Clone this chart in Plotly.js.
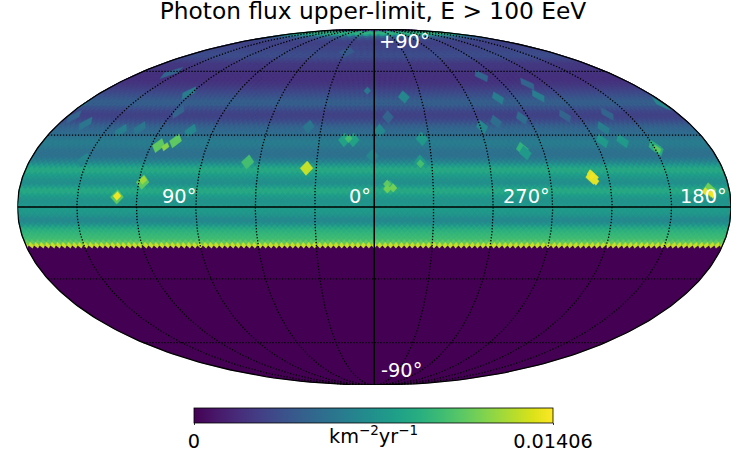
<!DOCTYPE html>
<html>
<head>
<meta charset="utf-8">
<script src="https://cdn.plot.ly/plotly-3.0.1.min.js"></script>
<style>html,body{margin:0;padding:0;background:#fff}</style>
</head>
<body>
<div id="myDiv" style="width:747px;height:475px"></div>
<script>
let NSIDE = 32;
let V_MAX = 0.01406;

// flux per healpix ring, from north pole down to the exposure edge
let ringValues = [
  0.001, 0.002, 0.0085, 0.009, 0.0075, 0.0045, 0.0035, 0.003, 0.0028, 0.0028,
  0.003, 0.003, 0.0032, 0.0033, 0.0033, 0.003, 0.0026, 0.0023, 0.0023, 0.0022,
  0.0021, 0.002, 0.002, 0.0021, 0.0023, 0.0026, 0.003, 0.0034, 0.0038, 0.0042,
  0.0042, 0.0036, 0.003, 0.0028, 0.003, 0.0035, 0.0042, 0.0046, 0.0048, 0.005,
  0.0055, 0.0058, 0.0058, 0.0056, 0.0053, 0.0052, 0.0053, 0.0058, 0.0066, 0.0076,
  0.0084, 0.0084, 0.0078, 0.0074, 0.0071, 0.007, 0.0076, 0.0084, 0.0084, 0.0078,
  0.0074, 0.0072, 0.0073, 0.0076, 0.0076, 0.0075, 0.0072, 0.0067, 0.0066, 0.0072,
  0.0082, 0.0088, 0.0092, 0.0095, 0.0097, 0.0105, 0.0128
];

// hot spots (lon runs the astronomical way, growing to the left)
let spotLon = [156, 122, 117, 176, 165, 141.5, 132, 102.5, 116, 108, 28, 341, 352, 37, 357, 334, 16.3, 11.4, 280, 281,
  290, 299, 253, 254, 274, 248, 222, 231, 236, 225, 182, 209.5, 281, 152, 118, 130, 66, 35, 1, 336,
  280, 209, 190, 248.5, 352];
let spotLat = [59.2, 49.1, 40.3, 38, 35, 31.8, 33, 31.8, 25.5, 27.5, 71, 47.2, 38, 33.6, 31.8, 28.3, 27.9, 27.9, 57.6, 46.7,
  35.9, 33.6, 53.5, 47.7, 37.5, 38.4, 39.3, 33, 27.5, 27.5, 44, 24.9, 24, 19.4, 10.2, 4.1, 18.6, 16, 21.1, 18.6,
  22.3, 24, 7, 12.2, 8];
let spotValue = [0.0045, 0.0058, 0.0045, 0.0045, 0.0055, 0.006, 0.0055, 0.0065, 0.0105, 0.0105, 0.004, 0.0065, 0.0045, 0.0055, 0.0065, 0.0075, 0.008, 0.008, 0.0045, 0.006,
  0.005, 0.0065, 0.0045, 0.006, 0.005, 0.0045, 0.0045, 0.006, 0.0075, 0.0075, 0.0065, 0.009, 0.009, 0.0065, 0.0105, 0.0105, 0.0098, 0.0128, 0.0065, 0.0075,
  0.0075, 0.0085, 0.011, 0.0135, 0.0088];

let smallLon = [118, 130, 336, 14, 4.6, 353.4, 353.4, 350.4, 248.7, 248, 247.3, 189, 192, 209, 112];
let smallLat = [11.1, 4.5, 17.8, 28.5, 50.2, 9.4, 7.4, 7.8, 13.6, 12.2, 10.7, 5.4, 6.2, 24, 25];
let smallValue = [0.012, 0.0138, 0.0098, 0.0098, 0.0055, 0.0105, 0.011, 0.011, 0.0135, 0.0138, 0.0135, 0.0138, 0.0135, 0.0105, 0.0115];

let gridMeridians = [30, 60, 90, 120, 150, -30, -60, -90, -120, -150];
let gridParallels = [60, 30, -30, -60];

let lonLabels = ["90°", "0°", "270°", "180°"];
let lonLabelPos = [-90, 0, 90, 180];
let latLabels = ["+90°", "-90°"];
let latLabelPos = [90, -90];

let viridis = ["#440154", "#482878", "#3e4989", "#31688e", "#26828e", "#1f9e89", "#35b779", "#6ece58", "#b5de2b", "#fde725"];

function hexToRgb(hex) {
  return [1, 3, 5].map(i => parseInt(hex.substr(i, 2), 16));
}

function valueColor(value) {
  let t = Math.min(value / V_MAX, 1) * (viridis.length - 1);
  let i = Math.min(Math.floor(t), viridis.length - 2);
  let c1 = hexToRgb(viridis[i]);
  let c2 = hexToRgb(viridis[i + 1]);
  let f = t - i;
  let rgb = c1.map((c, k) => Math.round(c + (c2[k] - c) * f));
  return "rgb(" + rgb.join(",") + ")";
}

// mollweide, x in -180..180 and y in -90..90
function project(lon, lat) {
  let phi = (lat * Math.PI) / 180;
  let theta = phi;
  if (Math.abs(lat) >= 90) {
    theta = (Math.sign(lat) * Math.PI) / 2;
  } else {
    for (let i = 0; i < 40; i++) {
      theta -= (2 * theta + Math.sin(2 * theta) - Math.PI * Math.sin(phi)) / (2 + 2 * Math.cos(2 * theta));
    }
  }
  return { x: lon * Math.cos(theta), y: 90 * Math.sin(theta) };
}

function ringLat(i) {
  if (i <= 0) return 90;
  let z = i < NSIDE ? 1 - (i * i) / (3 * NSIDE * NSIDE) : 4 / 3 - (2 * i) / (3 * NSIDE);
  return (Math.asin(z) * 180) / Math.PI;
}

function clampLon(lon) {
  return Math.max(-180, Math.min(180, lon));
}

function pushOneDiamond(xs, ys, lon, lat, halfLon, latN, latS) {
  [
    [lon, latN],
    [lon + halfLon, lat],
    [lon, latS],
    [lon - halfLon, lat],
    [lon, latN]
  ].forEach(c => {
    let p = project(clampLon(c[0]), c[1]);
    xs.push(p.x);
    ys.push(p.y);
  });
  xs.push(null);
  ys.push(null);
}

function pushDiamond(xs, ys, lon, lat, halfLon, latN, latS) {
  pushOneDiamond(xs, ys, lon, lat, halfLon, latN, latS);
  // wraps around the map edge
  if (lon + halfLon > 180) pushOneDiamond(xs, ys, lon - 360, lat, halfLon, latN, latS);
  if (lon - halfLon < -180) pushOneDiamond(xs, ys, lon + 360, lat, halfLon, latN, latS);
}

function fillTrace(xs, ys, color) {
  return {
    type: "scatter",
    mode: "lines",
    x: xs,
    y: ys,
    fill: "toself",
    fillcolor: color,
    line: { color: color, width: 0.4 },
    hoverinfo: "skip",
    showlegend: false
  };
}

function lineTrace(pairs, width, dash) {
  let pts = pairs.map(c => project(c[0], c[1]));
  return {
    type: "scatter",
    mode: "lines",
    x: pts.map(p => p.x),
    y: pts.map(p => p.y),
    line: { color: "black", width: width, dash: dash },
    cliponaxis: false,
    hoverinfo: "skip",
    showlegend: false
  };
}

function meridian(lon) {
  let pairs = [];
  for (let lat = -90; lat <= 90; lat += 1) pairs.push([lon, lat]);
  return pairs;
}

function parallel(lat) {
  let pairs = [];
  for (let lon = -180; lon <= 180; lon += 3) pairs.push([lon, lat]);
  return pairs;
}

function mapLabel(lon, lat, text, xanchor, yanchor, xshift, yshift) {
  let p = project(lon, lat);
  return {
    text: text,
    xref: "x",
    yref: "y",
    x: p.x,
    y: p.y,
    xanchor: xanchor,
    yanchor: yanchor,
    xshift: xshift,
    yshift: yshift,
    borderpad: 0,
    showarrow: false,
    font: { family: "DejaVu Sans", size: 19.4, color: "white" }
  };
}

let data = [];

// the whole sky, dark where there is no exposure
let edge = meridian(180).concat(meridian(-180).reverse());
let skyEdge = lineTrace(edge, 0, "solid");
data.push(fillTrace(skyEdge.x, skyEdge.y, valueColor(0)));

// plain bands under the pixels so no seams show
ringValues.forEach((value, k) => {
  let i = k + 1;
  if (i == ringValues.length) return;
  let band = parallel(ringLat(i - 0.5)).concat(parallel(ringLat(i + 0.5)).reverse());
  let outline = lineTrace(band, 0, "solid");
  data.push(fillTrace(outline.x, outline.y, valueColor(value)));
});

// rings of pixels
ringValues.forEach((value, k) => {
  let i = k + 1;
  let count = i < NSIDE ? 4 * i : 4 * NSIDE;
  let dLon = 360 / count;
  let shift = i < NSIDE ? 0.5 : ((i - NSIDE + 1) % 2) / 2;
  let widen = i < NSIDE ? 1.2 : 1;
  let xs = [];
  let ys = [];
  for (let j = 1; j <= count; j++) {
    let lon = (j - shift) * dLon;
    if (lon > 180) lon -= 360;
    pushDiamond(xs, ys, -lon, ringLat(i), (dLon / 2) * widen, ringLat(i - 1), ringLat(i + 1));
  }
  data.push(fillTrace(xs, ys, valueColor(value)));
});

// bigger nside 16 sized spots, then their small bright parts
function spotTrace(lon, lat, value, size) {
  let z = Math.sin((lat * Math.PI) / 180);
  let stretch = Math.max(1, Math.min(3, 0.577 / Math.sqrt(1 - z)));
  let xs = [];
  let ys = [];
  pushDiamond(xs, ys, lon > 180 ? 360 - lon : -lon, lat, 3.3 * size * stretch, lat + 3 * size, lat - 3 * size);
  return fillTrace(xs, ys, valueColor(value));
}
spotLon.forEach((lon, i) => data.push(spotTrace(lon, spotLat[i], spotValue[i], 1)));
smallLon.forEach((lon, i) => data.push(spotTrace(lon, smallLat[i], smallValue[i], 0.6)));

// graticule on top of the map
gridMeridians.forEach(lon => data.push(lineTrace(meridian(lon), 1.3, "1.3px,1.7px")));
gridParallels.forEach(lat => data.push(lineTrace(parallel(lat), 1.3, "1.3px,1.7px")));
data.push(lineTrace(meridian(0), 1.5, "solid"));
data.push(lineTrace(parallel(0), 1.5, "solid"));
data.push(lineTrace(edge, 1.3, "solid"));

// only there for the colorbar
data.push({
  type: "scatter",
  mode: "markers",
  x: [0, 0],
  y: [-80, -80],
  marker: {
    size: 1,
    opacity: 0,
    color: [0, V_MAX],
    cmin: 0,
    cmax: V_MAX,
    colorscale: "Viridis",
    colorbar: {
      orientation: "h",
      lenmode: "pixels",
      len: 359,
      thicknessmode: "pixels",
      thickness: 15,
      x: 373.5 / 747,
      xanchor: "center",
      y: (475 - 408) / 475,
      yanchor: "top",
      xpad: 0,
      ypad: 0,
      outlinecolor: "black",
      outlinewidth: 0.8,
      tickmode: "array",
      tickvals: [0, V_MAX],
      ticktext: ["0", "0.01406"],
      ticks: "outside",
      ticklen: 2,
      tickwidth: 0.8,
      tickcolor: "black",
      tickfont: { family: "DejaVu Sans", size: 19.3, color: "black" }
    }
  },
  hoverinfo: "skip",
  showlegend: false
});

let layout = {
  width: 747,
  height: 475,
  margin: { l: 0, r: 0, t: 0, b: 0 },
  paper_bgcolor: "white",
  plot_bgcolor: "white",
  title: {
    text: "Photon flux upper-limit, E > 100 EeV",
    font: { family: "DejaVu Sans", size: 23.3, color: "black" },
    x: 373 / 747,
    xanchor: "center",
    y: 1 - 11 / 475,
    yanchor: "middle"
  },
  xaxis: {
    domain: [17.5 / 747, 731 / 747],
    range: [-180, 180],
    visible: false,
    fixedrange: true
  },
  yaxis: {
    domain: [(475 - 385) / 475, (475 - 29) / 475],
    range: [-90, 90],
    visible: false,
    fixedrange: true
  },
  annotations: [
    mapLabel(lonLabelPos[0], 0, lonLabels[0], "right", "bottom", 1, -2),
    mapLabel(lonLabelPos[1], 0, lonLabels[1], "right", "bottom", -2, -2),
    mapLabel(lonLabelPos[2], 0, lonLabels[2], "right", "bottom", -2, -2),
    mapLabel(lonLabelPos[3], 0, lonLabels[3], "right", "bottom", -3, -2),
    mapLabel(0, latLabelPos[0], latLabels[0], "left", "top", 4, 0),
    mapLabel(0, latLabelPos[1], latLabels[1], "left", "bottom", 6, 2),
    {
      text: "km<sup>−2</sup>yr<sup>−1</sup>",
      xref: "paper",
      yref: "paper",
      x: 373 / 747,
      y: 1 - 435 / 475,
      xanchor: "center",
      yanchor: "middle",
      showarrow: false,
      font: { family: "DejaVu Sans", size: 19.3, color: "black" }
    }
  ]
};

Plotly.newPlot("myDiv", data, layout, { displayModeBar: false, staticPlot: true });
</script>
</body>
</html>
